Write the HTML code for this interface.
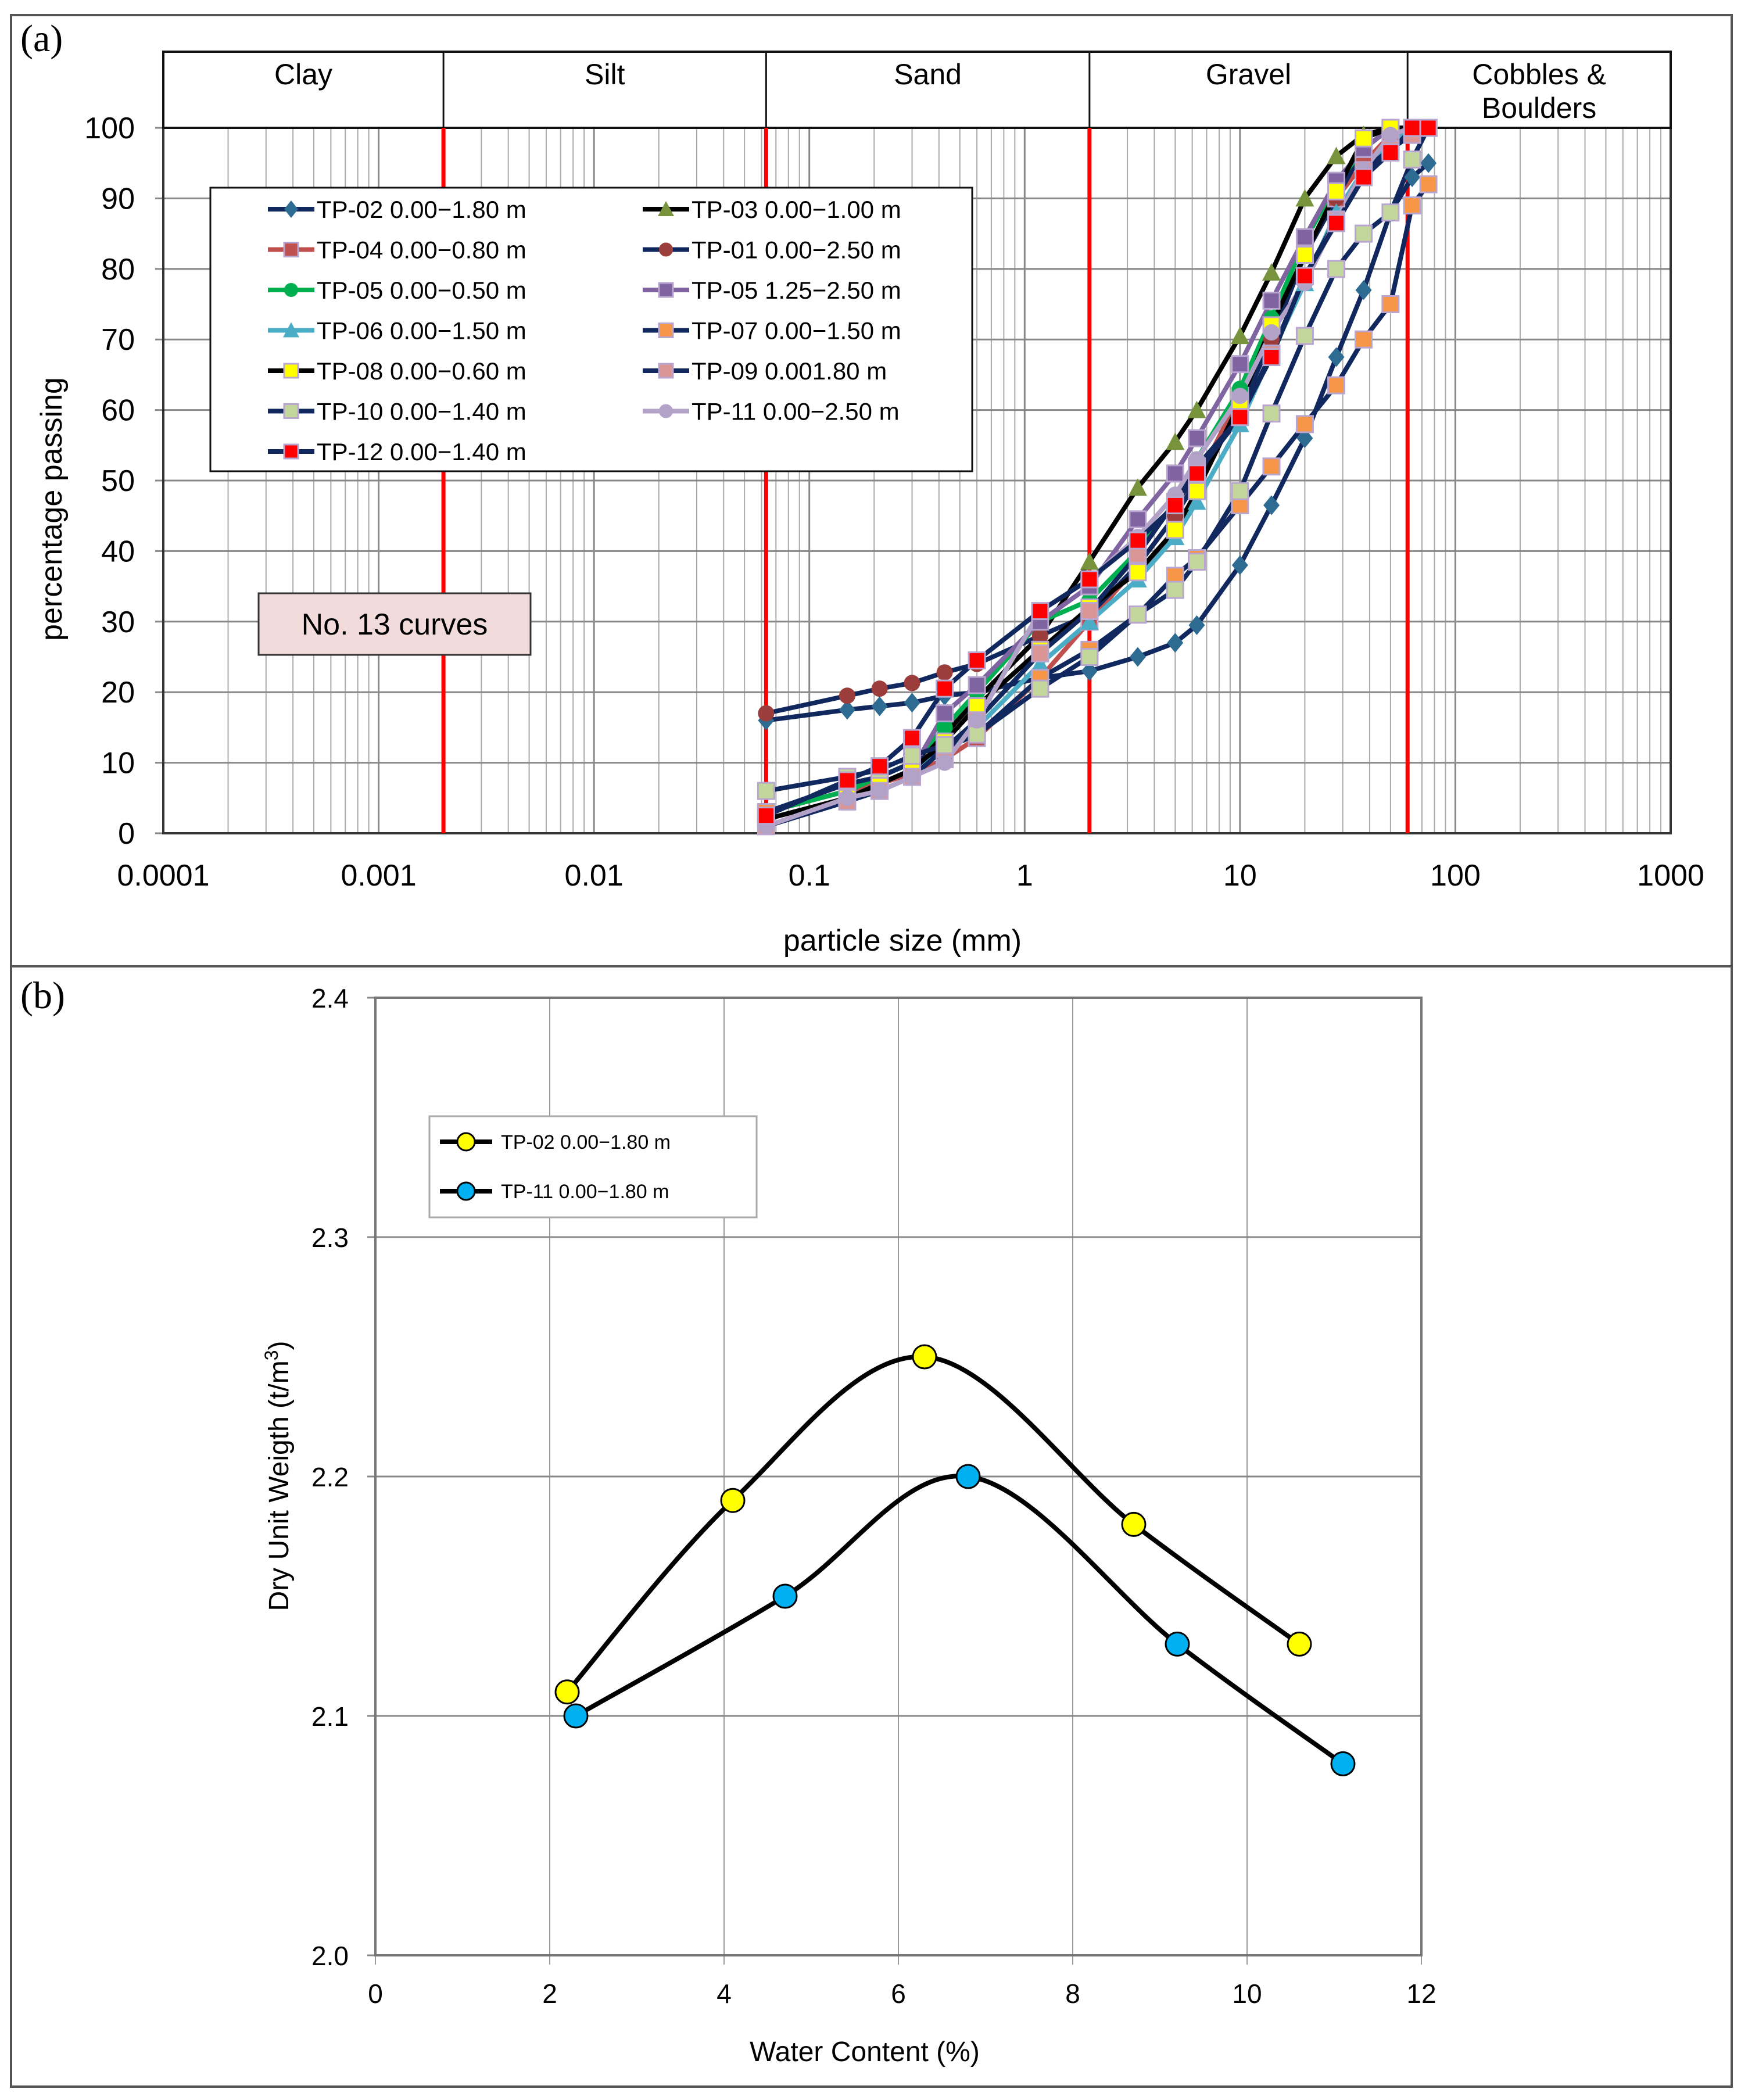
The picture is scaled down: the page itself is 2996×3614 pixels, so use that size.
<!DOCTYPE html>
<html><head><meta charset="utf-8"><style>
html,body{margin:0;padding:0;background:#fff}
svg{display:block;font-family:"Liberation Sans",sans-serif}
</style></head><body>
<svg id="fig" width="2996" height="3614" viewBox="0 0 2996 3614" xmlns="http://www.w3.org/2000/svg">
<rect x="19" y="26" width="2961" height="3565" fill="none" stroke="#555" stroke-width="4"/>
<line x1="19" y1="1663" x2="2980" y2="1663" stroke="#555" stroke-width="4"/>
<text x="35" y="88" font-family="Liberation Serif,serif" font-size="66">(a)</text>
<text x="35" y="1735" font-family="Liberation Serif,serif" font-size="66">(b)</text>
<g id="topchart"></g>
<g id="botchart"></g>
</svg>
<script>
const NS="http://www.w3.org/2000/svg";
function mk(p,tag,at,txt){const e=document.createElementNS(NS,tag);for(const k in at)e.setAttribute(k,at[k]);if(txt!==undefined)e.textContent=txt;p.appendChild(e);return e;}

// ---------- Chart (a) data ----------
const sieves=[0.063,0.15,0.212,0.3,0.425,0.6,1.18,2,3.35,5,6.3,10,14,20,28,37.5,50,63,75];
const xTicks=[0.0001,0.001,0.01,0.1,1,10,100,1000];
const xTickLabels=["0.0001","0.001","0.01","0.1","1","10","100","1000"];
const yTicks=[0,10,20,30,40,50,60,70,80,90,100];
const zoneBounds=[0.002,0.063,2,60];
const zoneNames=["Clay","Silt","Sand","Gravel","Cobbles &|Boulders"];
const seriesNames=["TP-02 0.00−1.80 m","TP-03 0.00−1.00 m","TP-04 0.00−0.80 m","TP-01 0.00−2.50 m","TP-05 0.00−0.50 m","TP-05 1.25−2.50 m","TP-06 0.00−1.50 m","TP-07 0.00−1.50 m","TP-08 0.00−0.60 m","TP-09 0.001.80 m","TP-10 0.00−1.40 m","TP-11 0.00−2.50 m","TP-12 0.00−1.40 m"];
const tp02=[16,17.5,18,18.5,19.5,20,22,23,25,27,29.5,38,46.5,56,67.5,77,88,93,95];
const tp03=[3,6,8,10,14,19,28,38.5,49,55.5,60,70.5,79.5,90,96,99,100,100,100];
const tp04=[3,6,7,8.5,10.5,13.5,22,30,38,45,50,62,72,82,90,95,99,100,100];
const tp01=[17,19.5,20.5,21.3,22.8,24,28,31,38,45,50,60,70,82,90,97,100,100,100];
const tp05a=[3,6,8,10,15,20,30,33,40,47,53,63,73,84,92,97,100,100,100];
const tp05b=[2,5,7,9,17,21,30,35,44.5,51,56,66.5,75.5,84.5,92.5,97,100,100,100];
const tp06=[2,5,7,9,12,15,24,30,36,42,47,58,68,78,88,94,98,100,100];
const tp07=[3,7,8,10,12,14,22,26,31,36.5,39,46.5,52,58,63.5,70,75,89,92];
const tp08=[2,5,7,9,13,18,26,32,37,43,48.5,61,72,82,91,98.5,100,100,100];
const tp09=[1,4.5,6,8,12,16,25.5,31.5,39.5,47,52,59,68,79,87,94,97,99,100];
const tp10=[6,8,9,11,12.5,14,20.5,25,31,34.5,38.5,48.5,59.5,70.5,80,85,88,95.5,100];
const tp11=[1,5,6,8,10,16,31.5,36,42,48,53,62,71,78,87,94,99,100,100];
const tp12=[2.5,7.5,9.5,13.5,20.5,24.5,31.5,36,41.5,46.5,51,59,67.5,79,86.5,93,96.5,100,100];
const allSeries=[tp02,tp03,tp04,tp01,tp05a,tp05b,tp06,tp07,tp08,tp09,tp10,tp11,tp12];
const styles=[
 {line:"#10285e",fill:"#2e6b93",m:"diamond"},
 {line:"#000",fill:"#77933c",m:"tri"},
 {line:"#c0504d",fill:"#c0504d",m:"sq"},
 {line:"#10285e",fill:"#9b3d3a",m:"circ"},
 {line:"#00b050",fill:"#00b050",m:"circ"},
 {line:"#8064a2",fill:"#8064a2",m:"sq"},
 {line:"#4bacc6",fill:"#4bacc6",m:"tri"},
 {line:"#10285e",fill:"#f79646",m:"sq"},
 {line:"#000",fill:"#ffff00",m:"sq"},
 {line:"#10285e",fill:"#d99694",m:"sq"},
 {line:"#10285e",fill:"#c3d69b",m:"sq"},
 {line:"#b3a2c7",fill:"#b3a2c7",m:"circ"},
 {line:"#10285e",fill:"#ff0000",m:"sq"}];

const PL=281,PR=2875,PT=220,PB=1434,HT=89;
const xS=v=>PL+(Math.log10(v)+4)/7*(PR-PL);
const yS=v=>PB-v/100*(PB-PT);
const topG=document.getElementById('topchart');

for(let d=-4;d<3;d++){for(let k=1;k<10;k++){const v=k*Math.pow(10,d);const x=xS(v);
 const g=mk(topG,'line',{x1:x,y1:PT,x2:x,y2:PB,stroke:k==1?'#888':'#aaa','stroke-width':k==1?3:2});
 
 }}
yTicks.forEach(t=>{const y=yS(t);
 const g=mk(topG,'line',{x1:PL-14,y1:y,x2:PR,y2:y,stroke:'#888','stroke-width':3});
 
 
 const l=mk(topG,'text',{x:232,y:y+18,'text-anchor':'end','font-size':52},String(t));
 
 });
xTicks.forEach((t,i)=>{const x=xS(t);
 const l=mk(topG,'text',{x:x,y:1524,'text-anchor':'middle','font-size':52},xTickLabels[i]);
 
 });
mk(topG,'rect',{x:PL,y:PT,width:PR-PL,height:PB-PT,fill:'none',stroke:'#333','stroke-width':4});
mk(topG,'rect',{x:PL,y:HT,width:PR-PL,height:PT-HT,fill:'#fff',stroke:'#111','stroke-width':4});
const zb=[0.0001].concat(zoneBounds).concat([1000]);
zoneNames.forEach((n,i)=>{const x0=xS(zb[i]),x1=xS(zb[i+1]);
 if(i>0){mk(topG,'line',{x1:x0,y1:HT,x2:x0,y2:PT,stroke:'#111','stroke-width':3});}
 const parts=n.split('|');
 parts.forEach((p,j)=>{const t=mk(topG,'text',{x:(x0+x1)/2,y:145+j*58,'text-anchor':'middle','font-size':50},p);
  
  });});
zoneBounds.forEach(b=>{const r=mk(topG,'line',{x1:xS(b),y1:PT,x2:xS(b),y2:PB,stroke:'#ff0000','stroke-width':7});
 
 });

function marker(p,type,x,y,s,fill,stroke){
 let e;
 if(type=='sq')e=mk(p,'rect',{x:x-s/2,y:y-s/2,width:s,height:s,fill:fill,stroke:stroke||'#b9a6d0','stroke-width':3});
 else if(type=='circ')e=mk(p,'circle',{cx:x,cy:y,r:s/2,fill:fill});
 else if(type=='tri')e=mk(p,'polygon',{points:`${x},${y-s/2-2} ${x+s/2+2},${y+s/2} ${x-s/2-2},${y+s/2}`,fill:fill});
 else e=mk(p,'polygon',{points:`${x},${y-s/2-3} ${x+s/2},${y} ${x},${y+s/2+3} ${x-s/2},${y}`,fill:fill});
 return e;}

const plotG=mk(topG,'g',{});
allSeries.forEach((vals,si)=>{const st=styles[si];
 const d=vals.map((v,i)=>(i?'L':'M')+xS(sieves[i]).toFixed(1)+','+yS(v).toFixed(1)).join(' ');
 const l=mk(plotG,'path',{d:d,fill:'none',stroke:st.line,'stroke-width':8,'stroke-linejoin':'round'});
 
 });
allSeries.forEach((vals,si)=>{const st=styles[si];
 vals.forEach((v,i)=>{const m=marker(plotG,st.m,xS(sieves[i]),yS(v),28,st.fill);
  
  });});

const lg=mk(topG,'g',{});


mk(lg,'rect',{x:362,y:323,width:1311,height:488,fill:'#fff',stroke:'#111','stroke-width':3});
seriesNames.forEach((n,i)=>{const col=i%2,row=Math.floor(i/2);const lx=col?1106:461,ly=360+row*69.5;const st=styles[i];
 mk(lg,'line',{x1:lx,y1:ly,x2:lx+80,y2:ly,stroke:st.line,'stroke-width':8});
 marker(lg,st.m,lx+40,ly,24,st.fill);
 const t=mk(lg,'text',{x:lx+84,y:ly+15,'font-size':42},n);
 
 });
const nb=mk(topG,'g',{});


mk(nb,'rect',{x:445,y:1021,width:468,height:106,fill:'#f2dcdb',stroke:'#333','stroke-width':3});
mk(nb,'text',{x:679,y:1092,'text-anchor':'middle','font-size':52},'No. 13 curves');
const xa=mk(topG,'text',{x:1553,y:1636,'text-anchor':'middle','font-size':52},'particle size (mm)');


const ya=mk(topG,'text',{x:0,y:0,'text-anchor':'middle','font-size':52,transform:'translate(106,876) rotate(-90)'},'percentage passing');



// ---------- Chart (b) data ----------
const bXTicks=[0,2,4,6,8,10,12];
const bYTicks=[2.0,2.1,2.2,2.3,2.4];
const tp02W=[2.2,4.1,6.3,8.7,10.6];
const tp02D=[2.11,2.19,2.25,2.18,2.13];
const tp11W=[2.3,4.7,6.8,9.2,11.1];
const tp11D=[2.10,2.15,2.20,2.13,2.08];
const bNames=["TP-02 0.00−1.80 m","TP-11 0.00−1.80 m"];
const BL=646,BR=2446,BT=1717,BB=3365;
const bx=v=>BL+v/12*(BR-BL), by=v=>BB-(v-2.0)/0.4*(BB-BT);
const botG=document.getElementById('botchart');
bXTicks.forEach(t=>{const x=bx(t);
 const g=mk(botG,'line',{x1:x,y1:BT,x2:x,y2:BB+16,stroke:'#999','stroke-width':2});
 
 
 const l=mk(botG,'text',{x:x,y:3447,'text-anchor':'middle','font-size':46},String(t));
 
 });
bYTicks.forEach(t=>{const y=by(t);
 const g=mk(botG,'line',{x1:BL-14,y1:y,x2:BR,y2:y,stroke:'#888','stroke-width':3});
 
 
 const l=mk(botG,'text',{x:600,y:y+17,'text-anchor':'end','font-size':46},t.toFixed(1));
 
 });
mk(botG,'rect',{x:BL,y:BT,width:BR-BL,height:BB-BT,fill:'none',stroke:'#777','stroke-width':4});
function smooth(xs,ys){const P=xs.map((x,i)=>[bx(x),by(ys[i])]);let d='M'+P[0][0]+','+P[0][1];
 for(let i=0;i<P.length-1;i++){const p0=P[Math.max(0,i-1)],p1=P[i],p2=P[i+1],p3=P[Math.min(P.length-1,i+2)];
  const c1=[p1[0]+(p2[0]-p0[0])/6,p1[1]+(p2[1]-p0[1])/6],c2=[p2[0]-(p3[0]-p1[0])/6,p2[1]-(p3[1]-p1[1])/6];
  d+=` C${c1[0]},${c1[1]} ${c2[0]},${c2[1]} ${p2[0]},${p2[1]}`;}return d;}
[[tp02W,tp02D,'#ffff00'],[tp11W,tp11D,'#00b0f0']].forEach(([xs,ys,c])=>{
 const l=mk(botG,'path',{d:smooth(xs,ys),fill:'none',stroke:'#000','stroke-width':8});
 
 
 xs.forEach((x,i)=>{const m=mk(botG,'circle',{cx:bx(x),cy:by(ys[i]),r:20,fill:c,stroke:'#000','stroke-width':3});
  
  });});
const bl=mk(botG,'g',{});


mk(bl,'rect',{x:739,y:1921,width:563,height:174,fill:'#fff',stroke:'#aaa','stroke-width':3});
bNames.forEach((n,i)=>{const ly=1965+i*85;
 mk(bl,'line',{x1:757,y1:ly,x2:847,y2:ly,stroke:'#000','stroke-width':8});
 mk(bl,'circle',{cx:802,cy:ly,r:15,fill:i?'#00b0f0':'#ffff00',stroke:'#000','stroke-width':3});
 const t=mk(bl,'text',{x:862,y:ly+12,'font-size':34},n);
 
 });
const bxa=mk(botG,'text',{x:1488,y:3547,'text-anchor':'middle','font-size':48},'Water Content (%)');


const bya=mk(botG,'text',{x:0,y:0,'text-anchor':'middle','font-size':48,transform:'translate(496,2540) rotate(-90)'});


bya.appendChild(document.createTextNode('Dry Unit Weigth (t/m'));
mk(bya,'tspan',{'baseline-shift':'super','font-size':32},'3');
bya.appendChild(document.createTextNode(')'));
</script>
</body></html>
